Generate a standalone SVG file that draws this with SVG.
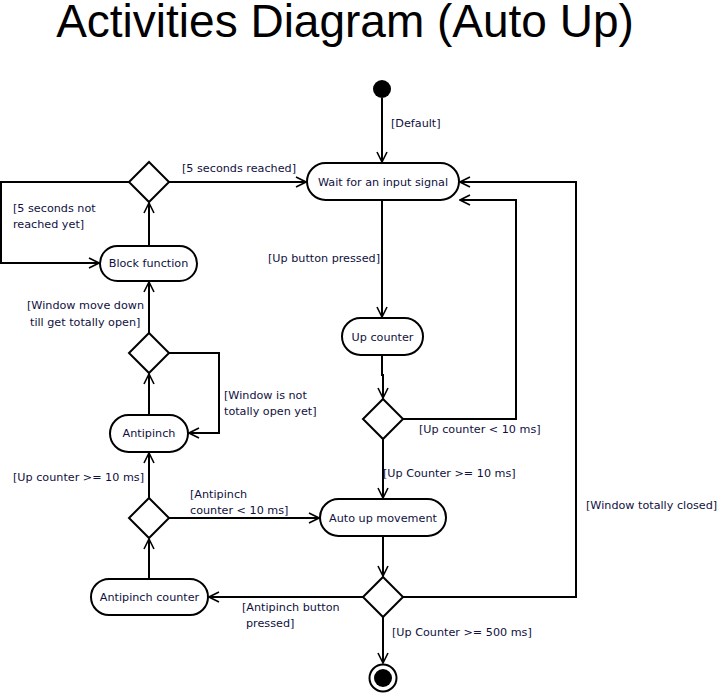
<svg xmlns="http://www.w3.org/2000/svg" width="721" height="697" viewBox="0 0 721 697">
<style>
.node rect, .node polygon { fill: #fff; stroke: #000; stroke-width: 2; }
.node text { font-family: "DejaVu Sans", Verdana, sans-serif; font-size: 11.2px; fill: #101040; text-anchor: middle; }
.lbl { font-family: "DejaVu Sans", Verdana, sans-serif; font-size: 11.2px; fill: #101040; }
.edge { fill: none; stroke: #000; stroke-width: 2; marker-end: url(#arr); }
.title { font-family: "Liberation Sans", Arial, sans-serif; font-size: 46px; fill: #000; text-anchor: middle; }
</style>
<defs>
<marker id="arr" viewBox="0 0 12 12" refX="11" refY="6" markerWidth="12" markerHeight="12" markerUnits="userSpaceOnUse" orient="auto">
<path d="M1,1 L11,6 L1,11" fill="none" stroke="#000" stroke-width="1.6"/>
</marker>
</defs>
<rect width="721" height="697" fill="#fff"/>
<text class="title" x="345" y="37">Activities Diagram (Auto Up)</text>

<g id="connectors">
<path class="edge" d="M382,98 L382,162"/>
<path class="edge" d="M169,182 L306,182"/>
<path class="edge" d="M129,182 L1,182 L1,263 L99,263"/>
<path class="edge" d="M149,246 L149,203"/>
<path class="edge" d="M149,333 L149,282"/>
<path class="edge" d="M169,353 L219,353 L219,433 L189,433"/>
<path class="edge" d="M149,415 L149,374"/>
<path class="edge" d="M149,498 L149,453"/>
<path class="edge" d="M169,518 L319,518"/>
<path class="edge" d="M149,579 L149,539"/>
<path class="edge" d="M363,597 L209,597"/>
<path class="edge" d="M382,200 L382,317"/>
<path class="edge" d="M382,355 L382,375 L383,375 L383,398"/>
<path class="edge" d="M403,419 L516,419 L516,200 L460,200"/>
<path class="edge" d="M383,439 L383,498"/>
<path class="edge" d="M383,536 L383,576"/>
<path class="edge" d="M403,597 L576,597 L576,182 L460,182"/>
<path class="edge" d="M383,617 L383,663"/>
</g>

<g id="labels">
<text class="lbl" x="391" y="127">[Default]</text>
<text class="lbl" x="182" y="172">[5 seconds reached]</text>
<text class="lbl" x="13" y="212">[5 seconds not</text>
<text class="lbl" x="13" y="228">reached yet]</text>
<text class="lbl" x="268" y="262">[Up button pressed]</text>
<text class="lbl" x="27" y="309">[Window move down</text>
<text class="lbl" x="30" y="326">till get totally open]</text>
<text class="lbl" x="224" y="399">[Window is not</text>
<text class="lbl" x="224" y="415">totally open yet]</text>
<text class="lbl" x="419" y="433">[Up counter &lt; 10 ms]</text>
<text class="lbl" x="383" y="477">[Up Counter &gt;= 10 ms]</text>
<text class="lbl" x="13" y="481">[Up counter &gt;= 10 ms]</text>
<text class="lbl" x="190" y="498">[Antipinch</text>
<text class="lbl" x="190" y="514">counter &lt; 10 ms]</text>
<text class="lbl" x="586" y="509">[Window totally closed]</text>
<text class="lbl" x="242" y="611">[Antipinch button</text>
<text class="lbl" x="246" y="627">pressed]</text>
<text class="lbl" x="392" y="636">[Up Counter &gt;= 500 ms]</text>
</g>

<g id="start"><circle cx="382" cy="89" r="9" fill="#000"/></g>
<g id="end"><circle cx="383" cy="678" r="13.5" fill="#fff" stroke="#000" stroke-width="2"/><circle cx="383" cy="678" r="9" fill="#000"/></g>

<g id="wait" class="node"><rect x="307" y="163" width="152" height="37" rx="18.5"/><text x="383" y="186">Wait for an input signal</text></g>
<g id="block" class="node"><rect x="100" y="246" width="97" height="35" rx="17.5"/><text x="148.5" y="267">Block function</text></g>
<g id="antipinch" class="node"><rect x="110" y="415" width="78" height="37" rx="18.5"/><text x="149" y="437">Antipinch</text></g>
<g id="antipinchcounter" class="node"><rect x="91" y="579" width="117" height="36" rx="18"/><text x="149.5" y="601">Antipinch counter</text></g>
<g id="upcounter" class="node"><rect x="342" y="318" width="81" height="37" rx="18.5"/><text x="382.5" y="341">Up counter</text></g>
<g id="autoup" class="node"><rect x="320" y="499" width="126" height="37" rx="18.5"/><text x="383" y="522">Auto up movement</text></g>

<g id="d1" class="node"><polygon points="149,162 169,182 149,202 129,182"/></g>
<g id="d2" class="node"><polygon points="149,333 169,353 149,373 129,353"/></g>
<g id="d3" class="node"><polygon points="149,498 169,518 149,538 129,518"/></g>
<g id="d4" class="node"><polygon points="383,399 403,419 383,439 363,419"/></g>
<g id="d5" class="node"><polygon points="383,577 403,597 383,617 363,597"/></g>
</svg>
